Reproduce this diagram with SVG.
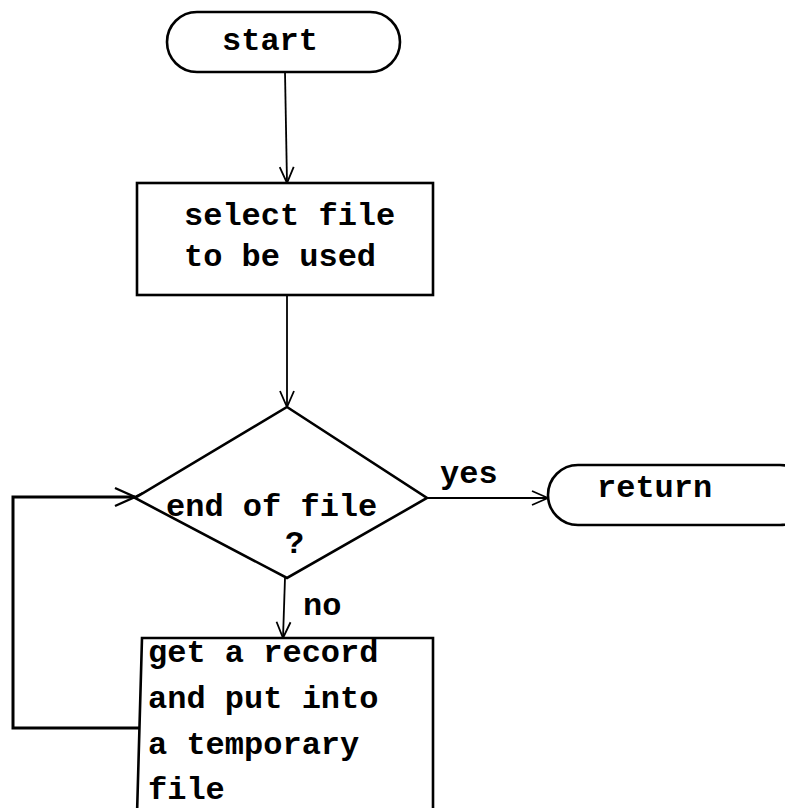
<svg xmlns="http://www.w3.org/2000/svg" width="785" height="808" viewBox="0 0 785 808">
  <style>
    .shape { fill: #ffffff; stroke: #000000; stroke-width: 2.6; }
    .wire { fill: none; stroke: #000000; stroke-width: 1.8; }
    .loop { fill: none; stroke: #000000; stroke-width: 3; }
    .label { font-family: "Liberation Mono", "DejaVu Sans Mono", monospace; font-size: 32px; font-weight: bold; fill: #000000; }
  </style>
  <defs>
    <marker id="open-arrow" viewBox="0 0 20 20" refX="18" refY="10" markerWidth="20" markerHeight="20" markerUnits="userSpaceOnUse" orient="auto">
      <path d="M2,3 L18,10 L2,17" fill="none" stroke="#000000" stroke-width="1.8"/>
    </marker>
    <marker id="open-arrow-wide" viewBox="0 0 32 24" refX="22" refY="12" markerWidth="32" markerHeight="24" markerUnits="userSpaceOnUse" orient="auto">
      <path d="M2,3 L22,12 L2,21 M22,12 L30,8 M22,12 L30,16" fill="none" stroke="#000000" stroke-width="2.4"/>
    </marker>
  </defs>
  <rect width="785" height="808" fill="#ffffff"/>

  <g id="connectors">
    <line class="wire" x1="285" y1="72" x2="287" y2="183" marker-end="url(#open-arrow)"/>
    <line class="wire" x1="287" y1="295" x2="287" y2="407" marker-end="url(#open-arrow)"/>
    <line class="wire" x1="427" y1="498" x2="548" y2="498" marker-end="url(#open-arrow)"/>
    <line class="wire" x1="285" y1="578" x2="283" y2="638" marker-end="url(#open-arrow)"/>
    <polyline class="loop" points="139,728 13,728 13,497 135,497" marker-end="url(#open-arrow-wide)"/>
    <text class="label" x="440" y="483">yes</text>
    <text class="label" x="303" y="615">no</text>
  </g>

  <g id="start">
    <rect class="shape" x="167" y="12" width="233" height="60" rx="30" ry="30"/>
    <text class="label" x="222" y="50">start</text>
  </g>

  <g id="select-file">
    <rect class="shape" x="137" y="183" width="296" height="112"/>
    <text class="label" x="184" y="225">select file</text>
    <text class="label" x="184" y="266">to be used</text>
  </g>

  <g id="end-of-file">
    <polygon class="shape" points="287,407 427,498 287,578 135,498"/>
    <text class="label" x="166" y="516">end of file</text>
    <text class="label" x="285" y="553">?</text>
  </g>

  <g id="return">
    <rect class="shape" x="548" y="465" width="262" height="60" rx="30" ry="30"/>
    <text class="label" x="597" y="497">return</text>
  </g>

  <g id="get-record">
    <path class="shape" d="M137,815 L142,638 L433,638 L433,815"/>
    <text class="label" x="148" y="662">get a record</text>
    <text class="label" x="148" y="708">and put into</text>
    <text class="label" x="148" y="754">a temporary</text>
    <text class="label" x="148" y="799">file</text>
  </g>
</svg>
